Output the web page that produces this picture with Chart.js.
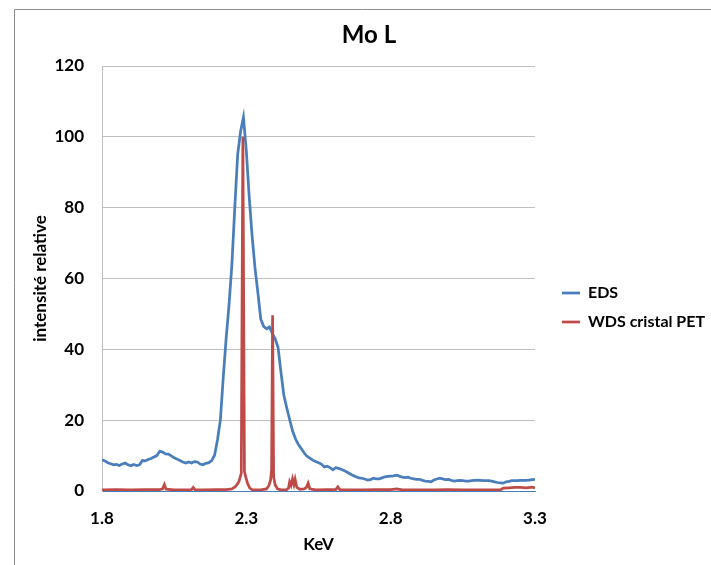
<!DOCTYPE html>
<html>
<head>
<meta charset="utf-8">
<title>Mo L</title>
<script src="https://cdn.jsdelivr.net/npm/chart.js@4.4.1/dist/chart.umd.min.js"></script>
<style>
  html, body { margin: 0; padding: 0; background: #fff; }
  #wrap { position: relative; width: 711px; height: 565px; }
</style>
</head>
<body>
<div id="wrap"><canvas id="moChart" width="711" height="565"></canvas></div>
<script>
// EDS spectrum (keV / relative intensity)
const edsKeV = [
  1.80, 1.81, 1.82, 1.83, 1.84, 1.85, 1.86, 1.87, 1.88, 1.89,
  1.90, 1.91, 1.92, 1.93, 1.94, 1.95, 1.96, 1.97, 1.98, 1.99,
  2.00, 2.01, 2.02, 2.03, 2.04, 2.05, 2.06, 2.07, 2.08, 2.09,
  2.10, 2.11, 2.12, 2.13, 2.14, 2.15, 2.16, 2.17, 2.18, 2.19,
  2.20, 2.21, 2.22, 2.23, 2.24, 2.25, 2.26, 2.27, 2.28, 2.29,
  2.30, 2.31, 2.32, 2.33, 2.34, 2.35, 2.36, 2.37, 2.38, 2.39,
  2.40, 2.41, 2.42, 2.43, 2.44, 2.45, 2.46, 2.47, 2.48, 2.49,
  2.50, 2.51, 2.52, 2.53, 2.54, 2.55, 2.56, 2.57, 2.58, 2.59,
  2.60, 2.61, 2.62, 2.63, 2.64, 2.65, 2.66, 2.67, 2.68, 2.69,
  2.70, 2.71, 2.72, 2.73, 2.74, 2.75, 2.76, 2.77, 2.78, 2.79,
  2.80, 2.81, 2.82, 2.83, 2.84, 2.85, 2.86, 2.87, 2.88, 2.89,
  2.90, 2.91, 2.92, 2.93, 2.94, 2.95, 2.96, 2.97, 2.98, 2.99,
  3.00, 3.01, 3.02, 3.03, 3.04, 3.05, 3.06, 3.07, 3.08, 3.09,
  3.10, 3.11, 3.12, 3.13, 3.14, 3.15, 3.16, 3.17, 3.18, 3.19,
  3.20, 3.21, 3.22, 3.23, 3.24, 3.25, 3.26, 3.27, 3.28, 3.29,
  3.30
];
const edsInt = [
  8.8, 8.5, 8.0, 7.7, 7.4, 7.5, 7.2, 7.6, 7.9, 7.4,
  7.1, 7.5, 7.2, 7.4, 8.6, 8.5, 8.9, 9.2, 9.6, 10.0,
  11.2, 11.0, 10.5, 10.4, 9.9, 9.4, 9.0, 8.6, 8.2, 7.9,
  8.2, 7.9, 8.3, 8.2, 7.6, 7.4, 7.8, 8.0, 8.6, 10.1,
  14.4, 20, 32, 43, 52.5, 64, 80, 95, 101.5, 105.5,
  96, 83, 72, 63, 56, 48.5, 46.5, 45.8, 46.3, 44.5,
  43, 40.5, 33.5, 27, 23.5, 20.2, 17, 14.8, 13.2, 12,
  10.8, 9.8, 9.3, 8.7, 8.3, 8.0, 7.6, 6.8, 7.0, 6.6,
  6.0, 6.6, 6.4, 6.1, 5.7, 5.3, 4.8, 4.4, 4.0, 3.7,
  3.6, 3.4, 3.1, 3.2, 3.6, 3.4, 3.4, 3.7, 4.0, 4.1,
  4.2, 4.3, 4.5, 4.2, 3.9, 3.8, 3.9, 3.6, 3.4, 3.3,
  3.3, 3.0, 2.8, 2.7, 2.6, 3.1, 3.4, 3.6, 3.4, 3.2,
  3.3, 3.0, 2.8, 2.9, 3.0, 2.9, 2.8, 2.8, 2.9, 3.0,
  3.1, 3.0, 2.9, 2.9, 2.9, 2.8, 2.6, 2.4, 2.3, 2.2,
  2.6, 2.7, 2.9, 2.9, 2.9, 3.0, 3.0, 3.0, 3.1, 3.2,
  3.3
];

// WDS (PET crystal) scan
const wdsKeV = [
  1.80, 1.85, 1.90, 1.95, 2.00, 2.010, 2.016, 2.022, 2.05, 2.10,
  2.110, 2.116, 2.122, 2.15, 2.20, 2.23, 2.25, 2.262, 2.274, 2.2825,
  2.288, 2.2935, 2.298, 2.304, 2.312, 2.320, 2.35, 2.370, 2.378, 2.384,
  2.3875, 2.391, 2.3945, 2.400, 2.408, 2.42, 2.44, 2.446, 2.450, 2.455,
  2.460, 2.465, 2.469, 2.475, 2.485, 2.500, 2.508, 2.514, 2.520, 2.54,
  2.58, 2.610, 2.617, 2.624, 2.66, 2.70, 2.75, 2.80, 2.821, 2.84,
  2.90, 2.95, 3.00, 3.05, 3.10, 3.15, 3.18, 3.19, 3.21, 3.23,
  3.25, 3.27, 3.29, 3.30
];
const wdsInt = [
  0.3, 0.4, 0.3, 0.4, 0.4, 0.6, 1.8, 0.5, 0.3, 0.3,
  0.4, 1.0, 0.4, 0.3, 0.4, 0.4, 0.6, 1.2, 2.6, 5,
  100, 5.5, 4, 2.2, 0.8, 0.4, 0.3, 0.6, 1.5, 3.1,
  6, 49.6, 4, 1.7, 0.6, 0.3, 0.4, 0.8, 2.6, 1.6,
  3.4, 1.8, 3.3, 1.0, 0.5, 0.6, 1.0, 2.2, 0.6, 0.3,
  0.4, 0.4, 1.2, 0.4, 0.3, 0.3, 0.4, 0.4, 0.6, 0.3,
  0.3, 0.3, 0.4, 0.3, 0.3, 0.3, 0.3, 0.8, 0.9, 1.0,
  1.0, 0.9, 1.1, 0.9
];

const xTicks = [1.8, 2.3, 2.8, 3.3];
const xTickLabels = ['1.8', '2.3', '2.8', '3.3'];
const yTicks = [0, 20, 40, 60, 80, 100, 120];

const FONT = 'Lato, "Open Sans", "DejaVu Sans", sans-serif';
Chart.defaults.font.family = FONT;
Chart.defaults.color = '#000';

const toPoints = (xs, ys) => xs.map((x, i) => ({ x: x, y: ys[i] }));

// put title / legend where Excel had them, and draw the chart frame
const layoutTweaks = {
  id: 'layoutTweaks',
  afterLayout(chart) {
    const t = chart.titleBlock, l = chart.legend;
    if (t) { t.left = 14; t.right = 724; }
    if (l) { l.left += 14; l.right = chart.width + 20; l.top += 25; l.bottom += 25; }
  },
  beforeDraw(chart) {
    const c = chart.ctx;
    c.save();
    c.strokeStyle = '#8c8c8c';
    c.lineWidth = 1;
    c.beginPath();
    c.moveTo(14.5, chart.height);
    c.lineTo(14.5, 9.5);
    c.lineTo(chart.width, 9.5);
    c.stroke();
    c.restore();
  }
};

new Chart(document.getElementById('moChart'), {
  type: 'line',
  data: {
    datasets: [{
      label: 'EDS',
      data: toPoints(edsKeV, edsInt),
      borderColor: '#4a7ebb',
      backgroundColor: '#4a7ebb',
      borderWidth: 2.75,
      pointRadius: 0,
      tension: 0,
      order: 2
    }, {
      label: 'WDS cristal PET',
      data: toPoints(wdsKeV, wdsInt),
      borderColor: '#be4b48',
      backgroundColor: '#be4b48',
      borderWidth: 2.75,
      pointRadius: 0,
      tension: 0,
      order: 1
    }]
  },
  options: {
    responsive: false,
    animation: false,
    devicePixelRatio: 1,
    layout: { padding: { left: 14, right: 76, top: 0, bottom: 0 } },
    plugins: {
      tooltip: { enabled: false },
      title: {
        display: true,
        text: 'Mo L',
        color: '#000',
        font: { size: 24, weight: 'bold' },
        padding: { top: 21, bottom: 16.2 }
      },
      legend: {
        position: 'right',
        maxWidth: 100,
        labels: {
          usePointStyle: true,
          pointStyle: 'line',
          pointStyleWidth: 18,
          padding: 13,
          color: '#000',
          font: { size: 16, weight: 'bold' },
          sort: (a, b) => a.datasetIndex - b.datasetIndex
        }
      }
    },
    scales: {
      x: {
        type: 'linear',
        min: 1.8,
        max: 3.3,
        afterBuildTicks: (scale) => { scale.ticks = xTicks.map(v => ({ value: v })); },
        afterFit: (scale) => { scale.height = 74; },
        grid: { display: false },
        border: { display: true, color: '#4a7ebb', width: 1 },
        ticks: {
          autoSkip: false,
          maxRotation: 0,
          padding: 9,
          color: '#000',
          font: { size: 17, weight: 'bold' },
          callback: (v, i) => xTickLabels[i]
        },
        title: {
          display: true,
          text: 'KeV',
          color: '#000',
          font: { size: 17, weight: 'bold' },
          padding: { top: 0, bottom: 10 }
        }
      },
      y: {
        min: 0,
        max: 120,
        afterBuildTicks: (scale) => { scale.ticks = yTicks.map(v => ({ value: v })); },
        afterFit: (scale) => { scale.width = 88; },
        grid: {
          drawTicks: false,
          lineWidth: 1,
          color: (c) => (c.tick && c.tick.value === 0) ? 'rgba(0,0,0,0)' : '#bfbfbf'
        },
        border: { color: '#bfbfbf' },
        ticks: {
          padding: 18,
          color: '#000',
          font: { size: 17, weight: 'bold' }
        },
        title: {
          display: true,
          text: 'intensité relative',
          color: '#000',
          font: { size: 17, weight: 'bold' },
          padding: { top: 16 }
        }
      }
    }
  },
  plugins: [layoutTweaks]
});
</script>
</body>
</html>
